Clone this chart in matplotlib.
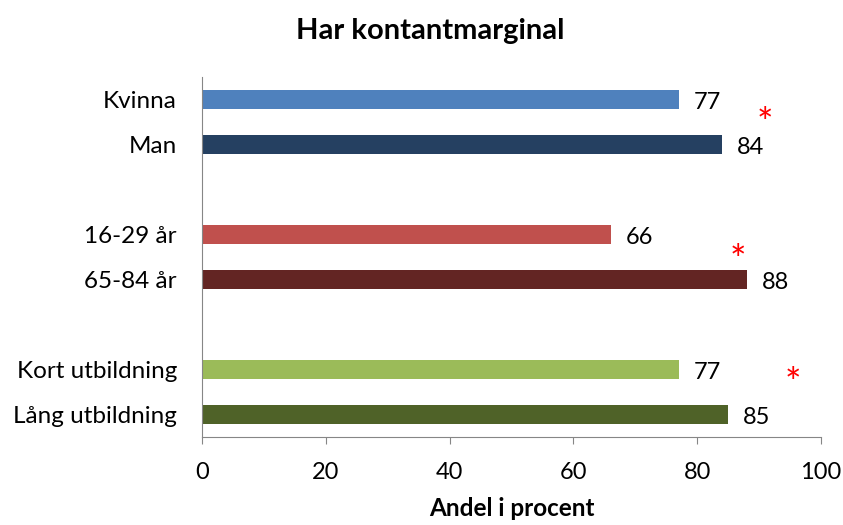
import matplotlib
matplotlib.use('Agg')
import matplotlib.pyplot as plt

plt.rcParams['font.family'] = ['Lato', 'DejaVu Sans']

# data
categories = ['Kvinna', 'Man', '', '16-29 år', '65-84 år', '', 'Kort utbildning', 'Lång utbildning']
values = [77, 84, None, 66, 88, None, 77, 85]
colors = ['#4F81BD', '#254061', None, '#C0504D', '#632523', None, '#9BBB59', '#4F6228']
# significance markers (x, y in category units)
star_x = [91, 86.5, 95.5]
star_y = [0.57, 3.62, 6.35]
xticks = [0, 20, 40, 60, 80, 100]

fig = plt.figure(figsize=(8.43, 5.25), dpi=100)
ax = fig.add_axes([0.2396, 0.1676, 0.7343, 0.6857])

for i, (v, c) in enumerate(zip(values, colors)):
    if v is None:
        continue
    ax.barh(i, v, height=0.42, color=c)
    ax.text(v + 2.4, i + 0.07, str(v), va='center', ha='left', fontsize=17, color='black')

for sx, sy in zip(star_x, star_y):
    ax.text(sx, sy, '*', color='red', fontsize=28, ha='center', va='center')

ax.set_xlim(0, 100)
ax.set_ylim(7.5, -0.5)
ax.set_yticks(range(len(categories)))
ax.set_yticklabels(categories, fontsize=17.5)
ax.tick_params(axis='y', length=0, pad=18)
ax.set_xticks(xticks)
ax.tick_params(axis='x', labelsize=17, direction='out', length=5, color='#868686', pad=13)

for s in ['top', 'right']:
    ax.spines[s].set_visible(False)
ax.spines['left'].set_color('#868686')
ax.spines['bottom'].set_color('#868686')

ax.set_xlabel('Andel i procent', fontsize=17.5, fontweight='bold', labelpad=10)
fig.suptitle('Har kontantmarginal', fontsize=21, fontweight='bold', x=0.51, y=0.965)

fig.savefig('out.png', dpi=100)
